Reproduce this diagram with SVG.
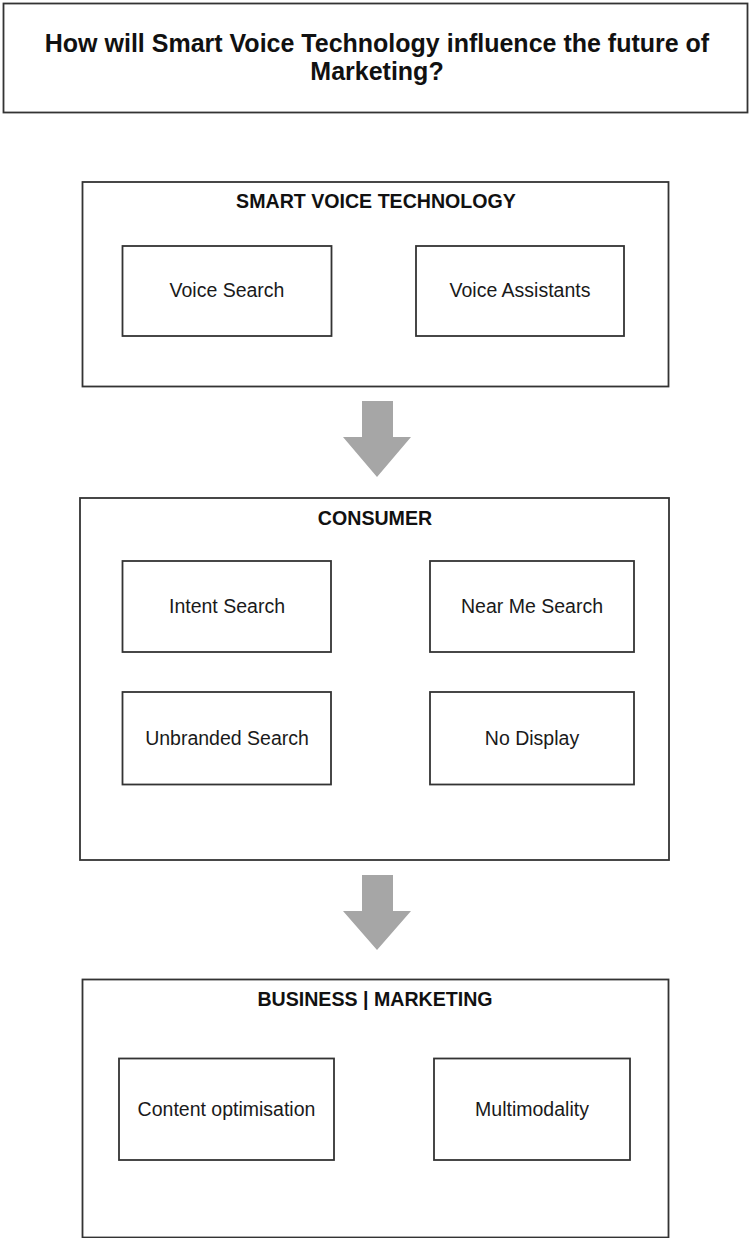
<svg xmlns="http://www.w3.org/2000/svg" width="751" height="1238" viewBox="0 0 751 1238">
<style>
.box{fill:#fff;stroke:#333;stroke-width:1.8}
.title{font-family:"Liberation Sans",Arial,sans-serif;font-weight:bold;font-size:25px;fill:#111;text-anchor:middle}
.head{font-family:"Liberation Sans",Arial,sans-serif;font-weight:bold;font-size:19.6px;fill:#111;text-anchor:middle}
.lbl{font-family:"Liberation Sans",Arial,sans-serif;font-size:19.5px;fill:#1a1a1a;text-anchor:middle}
.arrow{fill:#a6a6a6}
</style>
<rect width="751" height="1238" fill="#fff"/>
<g id="title">
<rect class="box" x="3.5" y="3.5" width="744" height="109"/>
<text class="title" x="377" y="52">How will Smart Voice Technology influence the future of</text>
<text class="title" x="377" y="80">Marketing?</text>
</g>
<g id="smart-voice-technology">
<rect class="box" x="82.5" y="182" width="586" height="204.5"/>
<text class="head" x="376" y="208.3">SMART VOICE TECHNOLOGY</text>
</g>
<g id="voice-search">
<rect class="box" x="122.5" y="246" width="209" height="90"/>
<text class="lbl" x="227" y="297">Voice Search</text>
</g>
<g id="voice-assistants">
<rect class="box" x="416" y="246" width="208" height="90"/>
<text class="lbl" x="520" y="297">Voice Assistants</text>
</g>
<g id="consumer">
<rect class="box" x="80" y="498" width="589" height="362"/>
<text class="head" x="375" y="525">CONSUMER</text>
</g>
<g id="intent-search">
<rect class="box" x="122.5" y="561" width="208.5" height="91"/>
<text class="lbl" x="227" y="613">Intent Search</text>
</g>
<g id="near-me-search">
<rect class="box" x="430" y="561" width="204" height="91"/>
<text class="lbl" x="532" y="613">Near Me Search</text>
</g>
<g id="unbranded-search">
<rect class="box" x="122.5" y="692" width="208.5" height="92.5"/>
<text class="lbl" x="227" y="745">Unbranded Search</text>
</g>
<g id="no-display">
<rect class="box" x="430" y="692" width="204" height="92.5"/>
<text class="lbl" x="532" y="745">No Display</text>
</g>
<g id="business-marketing">
<rect class="box" x="82.5" y="979.5" width="586" height="258"/>
<text class="head" x="375" y="1005.7">BUSINESS | MARKETING</text>
</g>
<g id="content-optimisation">
<rect class="box" x="119" y="1058.5" width="215" height="101.5"/>
<text class="lbl" x="226.5" y="1116">Content optimisation</text>
</g>
<g id="multimodality">
<rect class="box" x="434" y="1058.5" width="196" height="101.5"/>
<text class="lbl" x="532" y="1116">Multimodality</text>
</g>
<g id="connectors">
<polygon class="arrow" points="362,401 393,401 393,437 411,437 377,477 343,437 362,437"/>
<polygon class="arrow" points="362,875 393,875 393,911 411,911 377,950 343,911 362,911"/>
</g>
</svg>
